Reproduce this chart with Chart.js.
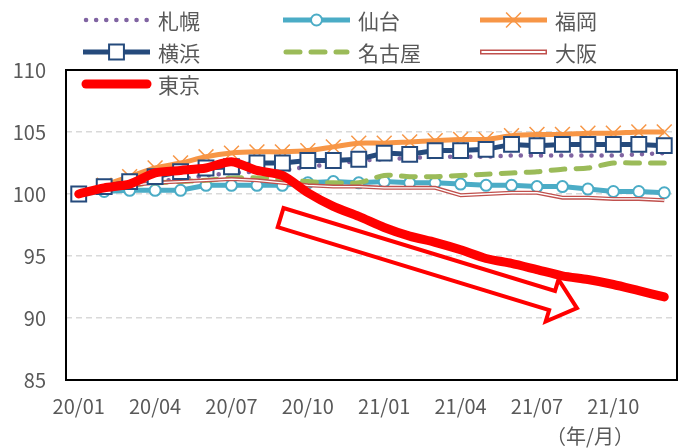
<!DOCTYPE html>
<html lang="ja">
<head>
<meta charset="UTF-8">
<title>都市別指数</title>
<style>
  html, body { margin: 0; padding: 0; background: #fff; }
  #wrap { width: 679px; height: 448px; position: relative; }
</style>
<script src="https://cdn.jsdelivr.net/npm/chart.js"></script>
</head>
<body>
<div id="wrap"><canvas id="chart" width="679" height="448"></canvas></div>
<script>
// 年/月
const labels = ['20/01','20/02','20/03','20/04','20/05','20/06','20/07','20/08','20/09','20/10','20/11','20/12',
                '21/01','21/02','21/03','21/04','21/05','21/06','21/07','21/08','21/09','21/10','21/11','21/12'];

// 指数（20/01 = 100）
const sapporo  = [100.0,100.4,100.7,101.0,101.2,101.5,101.7,101.8,101.9,102.2,102.4,102.7,102.8,102.9,103.0,103.0,103.0,103.1,103.1,103.1,103.1,103.1,103.2,103.3];
const sendai   = [100.0,100.2,100.3,100.3,100.3,100.7,100.7,100.7,100.7,100.9,101.0,100.9,101.0,100.9,100.9,100.8,100.7,100.7,100.6,100.6,100.4,100.2,100.2,100.1];
const fukuoka  = [100.0,100.7,101.4,102.1,102.5,103.0,103.3,103.4,103.4,103.5,103.8,104.1,104.1,104.2,104.3,104.4,104.4,104.7,104.8,104.8,104.9,104.9,105.0,105.0];
const yokohama = [100.0,100.6,101.0,101.4,101.8,102.1,102.2,102.5,102.5,102.7,102.7,102.8,103.3,103.2,103.5,103.5,103.6,104.0,103.9,104.0,104.0,104.0,104.0,103.9];
const nagoya   = [100.0,100.4,100.7,100.9,101.0,101.1,101.3,101.3,101.2,101.0,100.9,100.9,101.5,101.4,101.4,101.5,101.6,101.7,101.8,102.0,102.1,102.5,102.5,102.5];
const osaka    = [100.0,100.4,100.7,100.9,101.0,101.1,101.2,101.1,100.9,100.7,100.6,100.6,100.5,100.5,100.5,99.9,100.0,100.1,100.1,99.7,99.7,99.6,99.6,99.5];
const tokyo    = [100.0,100.5,100.8,101.7,101.9,102.1,102.6,101.9,101.5,100.1,99.0,98.2,97.3,96.6,96.1,95.5,94.8,94.4,93.9,93.4,93.1,92.7,92.2,91.7];

const yTicks = [85, 90, 95, 100, 105, 110];

// 下落を示す矢印（x = 月の位置, y = 指数）
const arrowFrom = { x: 7.93, y: 98.1 };
const arrowTo   = { x: 19.57, y: 90.8 };

const FONT = '"Noto Sans CJK JP", "Noto Sans", sans-serif';
const GREY = '#595959';

const C = {
  sapporo: '#8064A2', sendai: '#4BACC6', fukuoka: '#F79646', yokohama: '#254A7C',
  nagoya: '#9BBB59', osaka: '#C0504D', tokyo: '#FF0000'
};

const datasets = [
  { label: '札幌', data: sapporo, borderColor: C.sapporo, borderWidth: 4.5, borderDash: [0.1, 10],
    borderCapStyle: 'round', pointRadius: 0, order: 7 },
  { label: '仙台', data: sendai, borderColor: C.sendai, borderWidth: 5, pointStyle: 'circle', pointRadius: 5.5,
    pointBackgroundColor: '#fff', pointBorderColor: C.sendai, pointBorderWidth: 2, order: 6 },
  { label: '福岡', data: fukuoka, borderColor: C.fukuoka, borderWidth: 5, pointStyle: 'crossRot', pointRadius: 10.5,
    pointBorderColor: C.fukuoka, pointBorderWidth: 1.5, tension: 0.25, order: 2 },
  { label: '横浜', data: yokohama, borderColor: C.yokohama, borderWidth: 5, pointStyle: 'rect', pointRadius: 10.5,
    pointBackgroundColor: '#fff', pointBorderColor: C.yokohama, pointBorderWidth: 2, order: 1 },
  { label: '名古屋', data: nagoya, borderColor: C.nagoya, borderWidth: 5, borderDash: [14, 11],
    borderCapStyle: 'round', pointRadius: 0, tension: 0.25, order: 5 },
  { label: '大阪', data: osaka, borderColor: C.osaka, borderWidth: 4, pointRadius: 0, order: 4 },
  { label: '', data: osaka, borderColor: '#fff', borderWidth: 1.3, pointRadius: 0, order: 3 },
  { label: '東京', data: tokyo, borderColor: C.tokyo, borderWidth: 9, borderCapStyle: 'round',
    borderJoinStyle: 'round', pointRadius: 0, tension: 0.25, order: 0 }
];

// 凡例（グラフ上に重ねて描く）
const legendLayout = [
  ['札幌', 83, 20], ['仙台', 283, 20], ['福岡', 480, 20],
  ['横浜', 83, 52], ['名古屋', 283, 52], ['大阪', 480, 52],
  ['東京', 83, 84]
];

function drawMarker(ctx, style, x, y, r, color) {
  ctx.save();
  ctx.setLineDash([]);
  ctx.strokeStyle = color;
  ctx.fillStyle = '#fff';
  if (style === 'circle') {
    ctx.lineWidth = 2;
    ctx.beginPath(); ctx.arc(x, y, r, 0, Math.PI * 2); ctx.fill(); ctx.stroke();
  } else if (style === 'rect') {
    const s = r * Math.SQRT1_2;
    ctx.lineWidth = 2;
    ctx.beginPath(); ctx.rect(x - s, y - s, 2 * s, 2 * s); ctx.fill(); ctx.stroke();
  } else if (style === 'crossRot') {
    const s = r * Math.SQRT1_2;
    ctx.lineWidth = 1.5;
    ctx.beginPath();
    ctx.moveTo(x - s, y - s); ctx.lineTo(x + s, y + s);
    ctx.moveTo(x + s, y - s); ctx.lineTo(x - s, y + s);
    ctx.stroke();
  }
  ctx.restore();
}

const overlay = {
  id: 'overlay',
  afterDatasetsDraw(chart) {
    const { ctx, chartArea: a, scales } = chart;
    // 枠
    ctx.save();
    ctx.strokeStyle = '#000';
    ctx.lineWidth = 2;
    ctx.strokeRect(a.left, a.top, a.right - a.left, a.bottom - a.top);

    // 矢印
    const x0 = scales.x.getPixelForValue(arrowFrom.x), y0 = scales.y.getPixelForValue(arrowFrom.y);
    const x1 = scales.x.getPixelForValue(arrowTo.x), y1 = scales.y.getPixelForValue(arrowTo.y);
    const len = Math.hypot(x1 - x0, y1 - y0);
    const ux = (x1 - x0) / len, uy = (y1 - y0) / len;
    const nx = -uy, ny = ux;
    const hw = 10, HW = 22, headLen = 26;
    const bx = x1 - ux * headLen, by = y1 - uy * headLen;
    ctx.strokeStyle = C.tokyo;
    ctx.lineWidth = 4;
    ctx.lineJoin = 'miter';
    ctx.beginPath();
    ctx.moveTo(x0 + nx * hw, y0 + ny * hw);
    ctx.lineTo(bx + nx * hw, by + ny * hw);
    ctx.lineTo(bx + nx * HW, by + ny * HW);
    ctx.lineTo(x1, y1);
    ctx.lineTo(bx - nx * HW, by - ny * HW);
    ctx.lineTo(bx - nx * hw, by - ny * hw);
    ctx.lineTo(x0 - nx * hw, y0 - ny * hw);
    ctx.closePath();
    ctx.stroke();
    ctx.restore();
  },
  afterDraw(chart) {
    const { ctx } = chart;
    ctx.save();
    // 凡例
    legendLayout.forEach(([name, lx, ly]) => {
      const ds = chart.data.datasets.find(d => d.label === name);
      const x2 = lx + 67;
      ctx.save();
      ctx.lineCap = name === '東京' || name === '札幌' || name === '名古屋' ? 'round' : 'butt';
      if (name === '大阪') {
        ctx.strokeStyle = C.osaka; ctx.lineWidth = 5;
        ctx.beginPath(); ctx.moveTo(lx, ly); ctx.lineTo(x2, ly); ctx.stroke();
        ctx.strokeStyle = '#fff'; ctx.lineWidth = 2;
        ctx.beginPath(); ctx.moveTo(lx + 1.5, ly); ctx.lineTo(x2 - 1.5, ly); ctx.stroke();
      } else {
        ctx.strokeStyle = ds.borderColor;
        ctx.lineWidth = ds.borderWidth;
        ctx.setLineDash(ds.borderDash || []);
        const pad = ctx.lineCap === 'round' ? 3 : 0;
        ctx.beginPath(); ctx.moveTo(lx + pad, ly); ctx.lineTo(x2 - pad, ly); ctx.stroke();
        if (ds.pointRadius > 0) drawMarker(ctx, ds.pointStyle, (lx + x2) / 2, ly, ds.pointRadius, ds.pointBorderColor);
      }
      ctx.restore();
      ctx.fillStyle = GREY;
      ctx.font = '21px ' + FONT;
      ctx.textAlign = 'left';
      ctx.textBaseline = 'middle';
      ctx.fillText(name, lx + 75, ly + 1);
    });
    // 単位
    ctx.fillStyle = GREY;
    ctx.font = '20px ' + FONT;
    ctx.textAlign = 'center';
    ctx.textBaseline = 'middle';
    ctx.fillText('（年/月）', 590, 436);
    ctx.restore();
  }
};

new Chart(document.getElementById('chart'), {
  type: 'line',
  data: { labels: labels, datasets: datasets },
  plugins: [overlay],
  options: {
    responsive: false,
    animation: false,
    layout: { autoPadding: false, padding: { top: 70, right: 2, left: 0, bottom: 0 } },
    plugins: { legend: { display: false }, tooltip: { enabled: false } },
    scales: {
      x: {
        offset: true,
        grid: { display: false, drawTicks: false },
        border: { display: false },
        ticks: {
          autoSkip: false, maxRotation: 0, padding: 14, color: GREY,
          font: { family: FONT, size: 20 },
          callback: (v, i) => (i % 3 === 0 ? labels[i] : '')
        },
        afterFit: s => { s.height = 68; }
      },
      y: {
        min: 85, max: 110,
        afterBuildTicks: s => { s.ticks = yTicks.map(v => ({ value: v })); },
        grid: {
          drawTicks: false, lineWidth: 1.5,
          color: c => (c.tick.value === 85 || c.tick.value === 110 ? 'rgba(0,0,0,0)' : '#d9d9d9')
        },
        border: { display: false, dash: [6, 4] },
        ticks: { padding: 20, color: GREY, font: { family: FONT, size: 20 } },
        afterFit: s => { s.width = 66; }
      }
    }
  }
});
</script>
</body>
</html>
